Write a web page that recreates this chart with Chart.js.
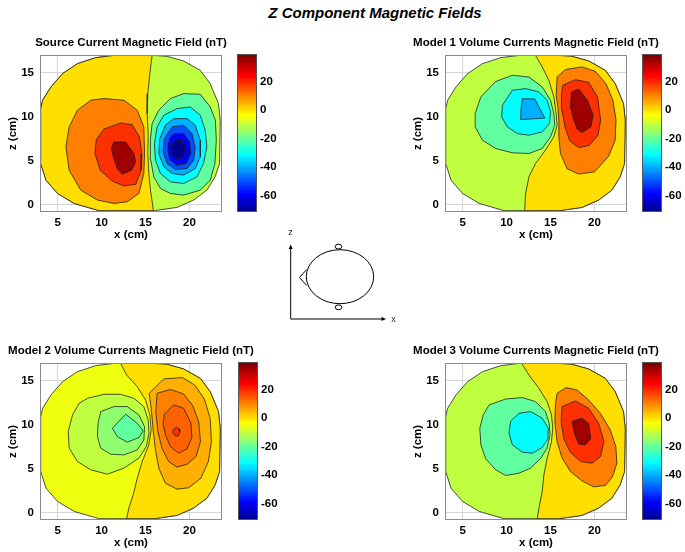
<!DOCTYPE html>
<html>
<head>
<meta charset="utf-8">
<script src="https://cdn.jsdelivr.net/npm/chart.js@4/dist/chart.umd.min.js"></script>
<style>
html,body{margin:0;padding:0;background:#fff;width:685px;height:552px;overflow:hidden;}
#mainTitle{position:absolute;left:0;top:4px;width:750px;text-align:center;font:italic bold 15px/17px "Liberation Sans",Arial,sans-serif;color:#000;}
canvas{position:absolute;}
</style>
</head>
<body>
<div id="mainTitle">Z Component Magnetic Fields</div>
<canvas id="p1" width="262" height="215" style="left:0px;top:30px"></canvas>
<canvas id="cb1" width="48" height="215" style="left:237px;top:30px"></canvas>
<canvas id="p2" width="262" height="215" style="left:405px;top:30px"></canvas>
<canvas id="cb2" width="48" height="215" style="left:642px;top:30px"></canvas>
<canvas id="p3" width="262" height="215" style="left:0px;top:338px"></canvas>
<canvas id="cb3" width="48" height="215" style="left:238px;top:338px"></canvas>
<canvas id="p4" width="262" height="215" style="left:405px;top:338px"></canvas>
<canvas id="cb4" width="48" height="215" style="left:642px;top:338px"></canvas>
<canvas id="schem" width="125" height="105" style="left:280px;top:225px"></canvas>
<script>
// ---------------- DATA ----------------
const xTicks = [5, 10, 15, 20];
const zTicks = [0, 5, 10, 15];
const xRange = [3, 23.7];
const zRange = [-0.8, 17];
const colorTicks = [20, 0, -20, -40, -60];
const colorRange = [-71.4, 39.4];

// head outline (x cm, z cm), clockwise from top-left of the flat top
const headOutline = [[11.4,16.95],[15.9,16.95],[17.45,16.85],[19.34,16.32],[21.23,15.26],[22.36,13.75],[23.3,11.49],[23.5,9.6],[23.42,4.7],[22.92,3.19],[21.98,1.68],[20.47,0.55],[18.58,-0.28],[16.0,-0.65],[9.72,-0.65],[6.89,0.17],[5.0,1.3],[3.68,2.81],[3.08,4.7],[3.08,10.92],[3.3,11.87],[4.25,13.38],[5.57,14.89],[7.26,16.02],[9.34,16.7]];

// Source current field contours
const srcZero = [[15.75,16.95],[15.49,14.89],[15.26,12.62],[15.19,10.36],[15.30,8.09],[15.26,5.83],[15.38,3.57],[15.57,1.68],[15.9,-0.65]];
const srcPos10 = [[10.28,12.06],[12.55,11.87],[14.06,10.74],[14.81,8.85],[14.89,5.83],[14.81,3.57],[14.25,1.30],[12.92,0.36],[11.42,0.17],[9.53,0.55],[7.64,1.68],[6.32,3.94],[5.94,6.58],[6.32,8.85],[7.26,10.74],[8.77,11.87]];
const srcPos20 = [[10.28,8.6],[12.17,9.3],[13.49,9.1],[14.3,7.72],[14.6,5.83],[14.5,3.94],[13.9,2.35],[12.55,2.15],[11.23,2.7],[9.85,3.94],[9.25,5.83],[9.4,7.4]];
const srcPos30 = [[11.42,7.15],[12.74,7.15],[13.68,5.83],[13.87,4.89],[13.42,3.94],[12.36,3.49],[11.79,4.13],[11.34,5.45],[11.11,6.40]];
const srcNeg10 = [[19.34,12.62],[21.23,12.55],[22.36,11.11],[22.95,9.60],[23.05,7.34],[22.9,4.70],[22.36,2.81],[21.23,1.68],[19.34,1.11],[17.83,1.30],[16.70,1.87],[15.94,3.19],[15.6,5.08],[15.55,7.34],[15.75,9.23],[16.51,10.74],[17.83,12.06]];
const srcNeg20 = [[18.58,10.92],[20.09,11.11],[21.23,10.17],[21.79,8.47],[21.98,6.58],[21.60,4.70],[20.85,3.19],[19.34,2.43],[17.83,2.62],[16.70,3.57],[16.13,5.08],[16.02,6.96],[16.32,8.85],[17.08,10.17]];
const srcNeg30 = [[18.21,9.79],[19.72,9.79],[20.66,9.04],[21.23,7.34],[21.23,5.45],[20.66,4.13],[19.34,3.38],[18.02,3.57],[17.08,4.32],[16.51,5.83],[16.62,7.53],[17.26,9.04]];
const srcNeg40 = [[18.02,8.85],[19.34,9.04],[20.28,8.09],[20.66,6.58],[20.47,5.08],[19.72,4.13],[18.40,4.02],[17.45,4.70],[17.0,6.02],[17.15,7.53]];
const srcNeg50 = [[18.21,8.09],[19.34,8.09],[20.02,7.15],[20.17,5.83],[19.64,4.70],[18.58,4.51],[17.75,5.15],[17.53,6.40],[17.75,7.53]];
const srcNeg60 = [[18.28,7.26],[19.15,7.42],[19.64,6.40],[19.34,5.45],[18.58,5.15],[18.02,5.64],[17.91,6.40]];

// Model 1 volume currents
const m1Zero = [[13.30,16.95],[14.06,15.64],[14.81,14.13],[15.38,12.25],[15.64,10.36],[15.75,9.04],[15.38,7.72],[14.43,6.21],[13.30,4.70],[12.55,3.19],[12.17,1.30],[12.06,-0.65]];
const m1Neg10 = [[8.77,14.0],[10.66,14.7],[12.55,14.5],[14.06,13.38],[15.0,11.87],[15.38,10.36],[15.49,9.04],[15.0,7.72],[14.06,6.40],[12.55,5.83],[10.66,5.91],[8.77,6.40],[7.26,7.34],[6.43,8.85],[6.43,10.36],[7.08,12.25]];
const m1Neg20 = [[10.66,13.0],[12.17,13.19],[13.68,12.81],[14.62,11.87],[15.0,10.55],[14.89,9.23],[14.06,8.28],[12.55,7.91],[11.23,8.09],[10.09,8.85],[9.45,9.98],[9.53,11.30]];
const m1Neg30 = [[11.8,12.05],[13.23,12.0],[14.35,9.85],[11.60,9.68],[11.65,10.92]];
const m1Pos10 = [[15.75,14.51],[16.70,15.35],[18.58,15.65],[20.09,15.15],[21.3,13.75],[22.1,11.87],[22.45,9.60],[22.35,7.34],[21.6,5.5],[20.0,3.75],[18.21,3.5],[16.89,4.1],[16.13,5.83],[15.95,7.72],[15.95,9.60],[15.85,11.0],[15.65,12.4]];
const m1Pos20 = [[16.40,13.57],[17.83,14.2],[19.34,13.9],[20.35,12.25],[20.7,9.60],[20.4,7.91],[19.4,6.75],[18.21,6.5],[17.2,7.26],[16.65,8.85],[16.3,10.74],[16.25,12.62]];
const m1Pos30 = [[17.38,12.81],[18.21,13.15],[19.2,11.87],[19.85,10.17],[19.6,8.85],[18.58,8.2],[18.02,8.6],[17.6,9.79],[17.26,11.11]];

// Model 2 volume currents
const m2Zero = [[12.17,16.95],[12.85,15.64],[14.06,14.32],[15.0,12.81],[15.49,11.11],[15.64,9.42],[15.38,7.72],[14.62,5.83],[14.06,3.94],[13.60,2.06],[13.11,0.55],[12.85,-0.65]];
const m2Neg5 = [[8.40,13.0],[10.28,13.45],[12.17,13.45],[13.68,13.0],[14.81,12.06],[15.30,10.55],[15.40,9.04],[15.10,7.53],[14.25,6.21],[12.55,5.08],[10.66,4.40],[8.77,4.89],[7.26,5.83],[6.32,7.34],[6.21,9.23],[6.70,11.11],[7.45,12.43]];
const m2Neg10 = [[9.91,11.49],[11.42,12.06],[12.92,12.06],[14.25,11.11],[14.89,9.79],[14.81,8.28],[14.06,7.15],[12.55,6.58],[11.04,6.66],[9.91,7.34],[9.53,8.66],[9.60,10.17]];
const m2Neg15 = [[11.23,9.60],[12.74,11.19],[14.06,10.17],[14.74,9.30],[14.25,8.55],[12.92,8.02],[11.79,8.66]];
const m2Pos5 = [[15.42,13.57],[17.08,15.2],[19.2,15.35],[20.6,14.5],[21.7,12.9],[22.35,10.74],[22.5,8.09],[22.15,5.83],[21.3,3.94],[19.9,2.85],[18.58,2.7],[17.26,3.38],[16.51,5.08],[16.1,7.34],[15.85,9.60],[15.65,11.87]];
const m2Pos10 = [[16.32,13.57],[17.83,14.0],[19.3,13.5],[20.35,12.2],[21.05,10.36],[21.25,8.09],[20.75,6.40],[19.7,5.5],[18.58,5.2],[17.64,5.83],[16.89,7.26],[16.40,9.23],[16.17,11.49]];
const m2Pos15 = [[17.15,11.19],[18.21,12.25],[19.34,11.87],[20.17,10.17],[20.28,8.55],[19.72,7.26],[18.77,6.77],[17.83,7.53],[17.30,8.77],[17.0,10.06]];
const m2Pos20 = [[18.51,9.72],[18.81,9.53],[18.89,9.15],[18.74,8.77],[18.43,8.70],[18.17,9.0],[18.13,9.42]];

// Model 3 volume currents
const m3Zero = [[11.72,16.95],[12.55,15.64],[13.68,14.13],[14.62,12.62],[15.11,11.11],[15.26,9.60],[15.11,8.09],[14.62,6.21],[14.25,4.32],[14.06,2.43],[13.75,0.92],[13.49,-0.65]];
const m3Neg10 = [[8.02,12.25],[9.91,12.92],[11.79,13.08],[13.30,12.62],[14.43,11.49],[14.85,10.17],[14.95,8.85],[14.6,7.34],[13.9,6.21],[12.74,5.08],[11.42,4.51],[9.91,4.25],[8.77,4.89],[7.64,6.13],[7.08,7.72],[6.96,9.60],[7.34,11.11]];
const m3Neg20 = [[10.47,10.43],[11.42,11.30],[12.74,11.49],[14.06,10.74],[14.75,9.60],[14.7,8.40],[14.06,7.42],[12.92,6.77],[11.79,6.89],[10.66,7.72],[10.28,9.04]];
const m3Pos10 = [[15.75,13.57],[16.77,14.21],[18.02,13.94],[19.34,12.81],[20.66,11.30],[21.79,9.42],[22.43,7.53],[22.55,5.64],[22.06,4.13],[21.23,3.11],[19.91,2.96],[18.58,3.64],[17.26,4.70],[16.32,6.21],[15.75,8.09],[15.49,10.36],[15.57,12.43]];
const m3Pos20 = [[16.32,12.06],[17.83,12.70],[19.34,11.87],[20.47,10.17],[21.08,8.09],[20.70,6.40],[19.72,5.64],[18.40,5.83],[17.26,6.89],[16.51,8.40],[16.21,10.36]];
const m3Pos30 = [[17.45,10.36],[18.58,10.74],[19.34,10.17],[19.57,8.40],[18.96,7.72],[18.21,7.79],[17.75,8.92]];

// ---------------- HELPERS ----------------
const FONT = "'Liberation Sans', Arial, sans-serif";
const leftHalf = zero => zero.concat(headOutline.slice(14), [headOutline[0]]);
const rightHalf = zero => zero.concat(headOutline.slice(1, 14).reverse());

function jetRow(k) {
  const row = j => (j < 1 || j > 47) ? 0 : j <= 16 ? j / 16 : j <= 31 ? 1 : (48 - j) / 16;
  const c = [row(k - 24), row(k - 8), row(k + 8)].map(v => Math.round(v * 255));
  return `rgb(${c[0]},${c[1]},${c[2]})`;
}
function jet64(v) {
  const [lo, hi] = colorRange;
  let k = Math.floor((v - lo) / (hi - lo) * 64) + 1;
  return jetRow(Math.max(1, Math.min(64, k)));
}

const polyFill = {
  id: 'polyFill',
  beforeDatasetDraw(chart, args) {
    const ds = chart.data.datasets[args.index];
    if (!ds.polyColor) return;
    const pts = args.meta.data, ctx = chart.ctx, a = chart.chartArea;
    ctx.save();
    ctx.beginPath(); ctx.rect(a.left, a.top, a.right - a.left, a.bottom - a.top); ctx.clip();
    ctx.beginPath();
    pts.forEach((p, i) => i ? ctx.lineTo(p.x, p.y) : ctx.moveTo(p.x, p.y));
    ctx.closePath();
    ctx.fillStyle = ds.polyColor;
    ctx.fill();
    ctx.restore();
  }
};
const boxPlugin = {
  id: 'boxPlugin',
  afterDatasetsDraw(chart) {
    const a = chart.chartArea, ctx = chart.ctx;
    ctx.save();
    ctx.strokeStyle = '#8a8a8a'; ctx.lineWidth = 1;
    ctx.strokeRect(Math.round(a.left) + 0.5, Math.round(a.top) + 0.5, Math.round(a.right - a.left) - 1, Math.round(a.bottom - a.top) - 1);
    ctx.restore();
  }
};
const tickFont = {family: FONT, size: 11.5, weight: 'bold'};

function makePanel(id, title, layers) {
  const n = layers.length;
  const datasets = layers.map((L, i) => ({
    data: L.pts.concat([L.pts[0]]).map(([x, y]) => ({x, y})),
    showLine: true, pointRadius: 0, borderColor: '#222', borderWidth: 0.8,
    tension: 0, polyColor: jet64(L.fill), order: n - i
  }));
  new Chart(document.getElementById(id), {
    type: 'scatter',
    data: {datasets},
    options: {
      responsive: false, animation: false, events: [],
      layout: {padding: 0},
      plugins: {
        legend: {display: false}, tooltip: {enabled: false},
        title: {display: true, text: title, color: '#000',
          font: {family: FONT, size: 11.5, weight: 'bold'}, padding: {top: 6, bottom: 5.2}}
      },
      scales: {
        x: {type: 'linear', min: xRange[0], max: xRange[1],
          afterBuildTicks: s => { s.ticks = xTicks.map(v => ({value: v})); },
          afterFit: s => { s.height = 33; },
          grid: {color: '#d6d6d6', drawTicks: false}, border: {display: false},
          ticks: {padding: 4, font: tickFont, color: '#000', maxRotation: 0},
          title: {display: true, text: 'x (cm)', color: '#000', font: tickFont, padding: {top: 0, bottom: 2.8}}},
        y: {type: 'linear', min: zRange[0], max: zRange[1],
          afterBuildTicks: s => { s.ticks = zTicks.map(v => ({value: v})); },
          afterFit: s => { s.width = 40; },
          grid: {color: '#d6d6d6', drawTicks: false}, border: {display: false},
          ticks: {padding: 6, font: tickFont, color: '#000'},
          title: {display: true, text: 'z (cm)', color: '#000', font: tickFont, padding: {top: 5.8, bottom: 0}}},
        yRight: {type: 'linear', position: 'right', min: zRange[0], max: zRange[1],
          afterFit: s => { s.width = 40; },
          grid: {display: false, drawTicks: false}, border: {display: false},
          ticks: {display: false}}
      }
    },
    plugins: [polyFill, boxPlugin]
  });
}

const colorbarPlugin = {
  id: 'colorbarPlugin',
  beforeDatasetsDraw(chart) {
    const a = chart.chartArea, ctx = chart.ctx, ys = chart.scales.y;
    const [lo, hi] = colorRange, step = (hi - lo) / 64;
    ctx.save();
    for (let k = 1; k <= 64; k++) {
      const y0 = ys.getPixelForValue(lo + (k - 1) * step), y1 = ys.getPixelForValue(lo + k * step);
      ctx.fillStyle = jetRow(k);
      ctx.fillRect(a.left, Math.floor(y1), a.right - a.left, Math.ceil(y0) - Math.floor(y1));
    }
    ctx.strokeStyle = '#555'; ctx.lineWidth = 1;
    ctx.strokeRect(Math.round(a.left) + 0.5, Math.round(a.top) + 0.5, Math.round(a.right - a.left) - 1, Math.round(a.bottom - a.top) - 1);
    ctx.restore();
  }
};
function makeColorbar(id) {
  new Chart(document.getElementById(id), {
    type: 'scatter',
    data: {datasets: []},
    options: {
      responsive: false, animation: false, events: [],
      layout: {padding: {left: 0, right: 0, top: 24, bottom: 33}},
      plugins: {legend: {display: false}, tooltip: {enabled: false}},
      scales: {
        x: {display: false, min: 0, max: 1},
        y: {position: 'right', min: colorRange[0], max: colorRange[1],
          afterBuildTicks: s => { s.ticks = colorTicks.map(v => ({value: v})); },
          afterFit: s => { s.width = 28; },
          grid: {display: false, drawTicks: false}, border: {display: false},
          ticks: {padding: 3, font: tickFont, color: '#000'}}
      }
    },
    plugins: [colorbarPlugin]
  });
}

// fill = field value whose colormap colour fills the region
makePanel('p1', 'Source Current Magnetic Field (nT)', [
  {fill: -10, pts: headOutline}, {fill: 0, pts: leftHalf(srcZero)},
  {fill: 10, pts: srcPos10}, {fill: 20, pts: srcPos20}, {fill: 35, pts: srcPos30},
  {fill: -20, pts: srcNeg10}, {fill: -30, pts: srcNeg20}, {fill: -40, pts: srcNeg30},
  {fill: -50, pts: srcNeg40}, {fill: -60, pts: srcNeg50}, {fill: -71, pts: srcNeg60}
]);
makePanel('p2', 'Model 1 Volume Currents Magnetic Field (nT)', [
  {fill: -10, pts: headOutline}, {fill: 0, pts: rightHalf(m1Zero)},
  {fill: 10, pts: m1Pos10}, {fill: 20, pts: m1Pos20}, {fill: 35, pts: m1Pos30},
  {fill: -20, pts: m1Neg10}, {fill: -30, pts: m1Neg20}, {fill: -40, pts: m1Neg30}
]);
makePanel('p3', 'Model 2 Volume Currents Magnetic Field (nT)', [
  {fill: -5, pts: headOutline}, {fill: 0, pts: rightHalf(m2Zero)},
  {fill: 5, pts: m2Pos5}, {fill: 10, pts: m2Pos10}, {fill: 15, pts: m2Pos15}, {fill: 20, pts: m2Pos20},
  {fill: -10, pts: m2Neg5}, {fill: -15, pts: m2Neg10}, {fill: -20, pts: m2Neg15}
]);
makePanel('p4', 'Model 3 Volume Currents Magnetic Field (nT)', [
  {fill: -10, pts: headOutline}, {fill: 0, pts: rightHalf(m3Zero)},
  {fill: 10, pts: m3Pos10}, {fill: 20, pts: m3Pos20}, {fill: 35, pts: m3Pos30},
  {fill: -20, pts: m3Neg10}, {fill: -30, pts: m3Neg20}
]);
['cb1', 'cb2', 'cb3', 'cb4'].forEach(makeColorbar);

// ---------------- schematic (coordinate sketch of head) ----------------
const schematic = {
  origin: [290.7, 319], zTip: 244.5, xTip: 386,
  head: {cx: 340, cy: 276.7, rx: 33.7, ry: 27},
  ears: [[338.5, 246.6], [338.5, 307.3]], earR: [3.3, 2.4],
  nose: [[306.7, 269.5], [299.5, 277.5], [306.7, 285.5]],
  zLabel: [290.6, 233], xLabel: [393.5, 319.5]
};
const schemPlugin = {
  id: 'schemPlugin',
  afterDraw(chart) {
    const ctx = chart.ctx, X = v => chart.scales.x.getPixelForValue(v), Y = v => chart.scales.y.getPixelForValue(v);
    const S = schematic, [ox, oy] = S.origin;
    ctx.save();
    ctx.strokeStyle = '#000'; ctx.fillStyle = '#000'; ctx.lineWidth = 1;
    ctx.beginPath(); ctx.moveTo(X(ox), Y(oy)); ctx.lineTo(X(ox), Y(S.zTip + 3)); ctx.stroke();
    ctx.beginPath(); ctx.moveTo(X(ox), Y(oy)); ctx.lineTo(X(S.xTip - 3), Y(oy)); ctx.stroke();
    ctx.beginPath(); ctx.moveTo(X(ox), Y(S.zTip)); ctx.lineTo(X(ox - 2), Y(S.zTip + 4.5)); ctx.lineTo(X(ox + 2), Y(S.zTip + 4.5)); ctx.closePath(); ctx.fill();
    ctx.beginPath(); ctx.moveTo(X(S.xTip), Y(oy)); ctx.lineTo(X(S.xTip - 4.5), Y(oy - 2)); ctx.lineTo(X(S.xTip - 4.5), Y(oy + 2)); ctx.closePath(); ctx.fill();
    const h = S.head;
    ctx.beginPath(); ctx.ellipse(X(h.cx), Y(h.cy), X(h.cx + h.rx) - X(h.cx), Y(h.cy + h.ry) - Y(h.cy), 0, 0, 2 * Math.PI); ctx.stroke();
    S.ears.forEach(([ex, ey]) => {
      ctx.beginPath(); ctx.fillStyle = '#fff';
      ctx.ellipse(X(ex), Y(ey), X(ex + S.earR[0]) - X(ex), Y(ey + S.earR[1]) - Y(ey), 0, 0, 2 * Math.PI);
      ctx.fill(); ctx.stroke();
    });
    ctx.beginPath(); S.nose.forEach(([nx, ny], i) => i ? ctx.lineTo(X(nx), Y(ny)) : ctx.moveTo(X(nx), Y(ny))); ctx.stroke();
    ctx.fillStyle = '#222'; ctx.font = "9px " + FONT; ctx.textAlign = 'center'; ctx.textBaseline = 'middle';
    ctx.fillText('z', X(S.zLabel[0]), Y(S.zLabel[1]));
    ctx.fillText('x', X(S.xLabel[0]), Y(S.xLabel[1]));
    ctx.restore();
  }
};
new Chart(document.getElementById('schem'), {
  type: 'scatter',
  data: {datasets: []},
  options: {
    responsive: false, animation: false, events: [],
    layout: {padding: 0},
    plugins: {legend: {display: false}, tooltip: {enabled: false}},
    scales: {
      x: {display: false, min: 280, max: 405},
      y: {display: false, min: 225, max: 330, reverse: true}
    }
  },
  plugins: [schemPlugin]
});
</script>
</body>
</html>
